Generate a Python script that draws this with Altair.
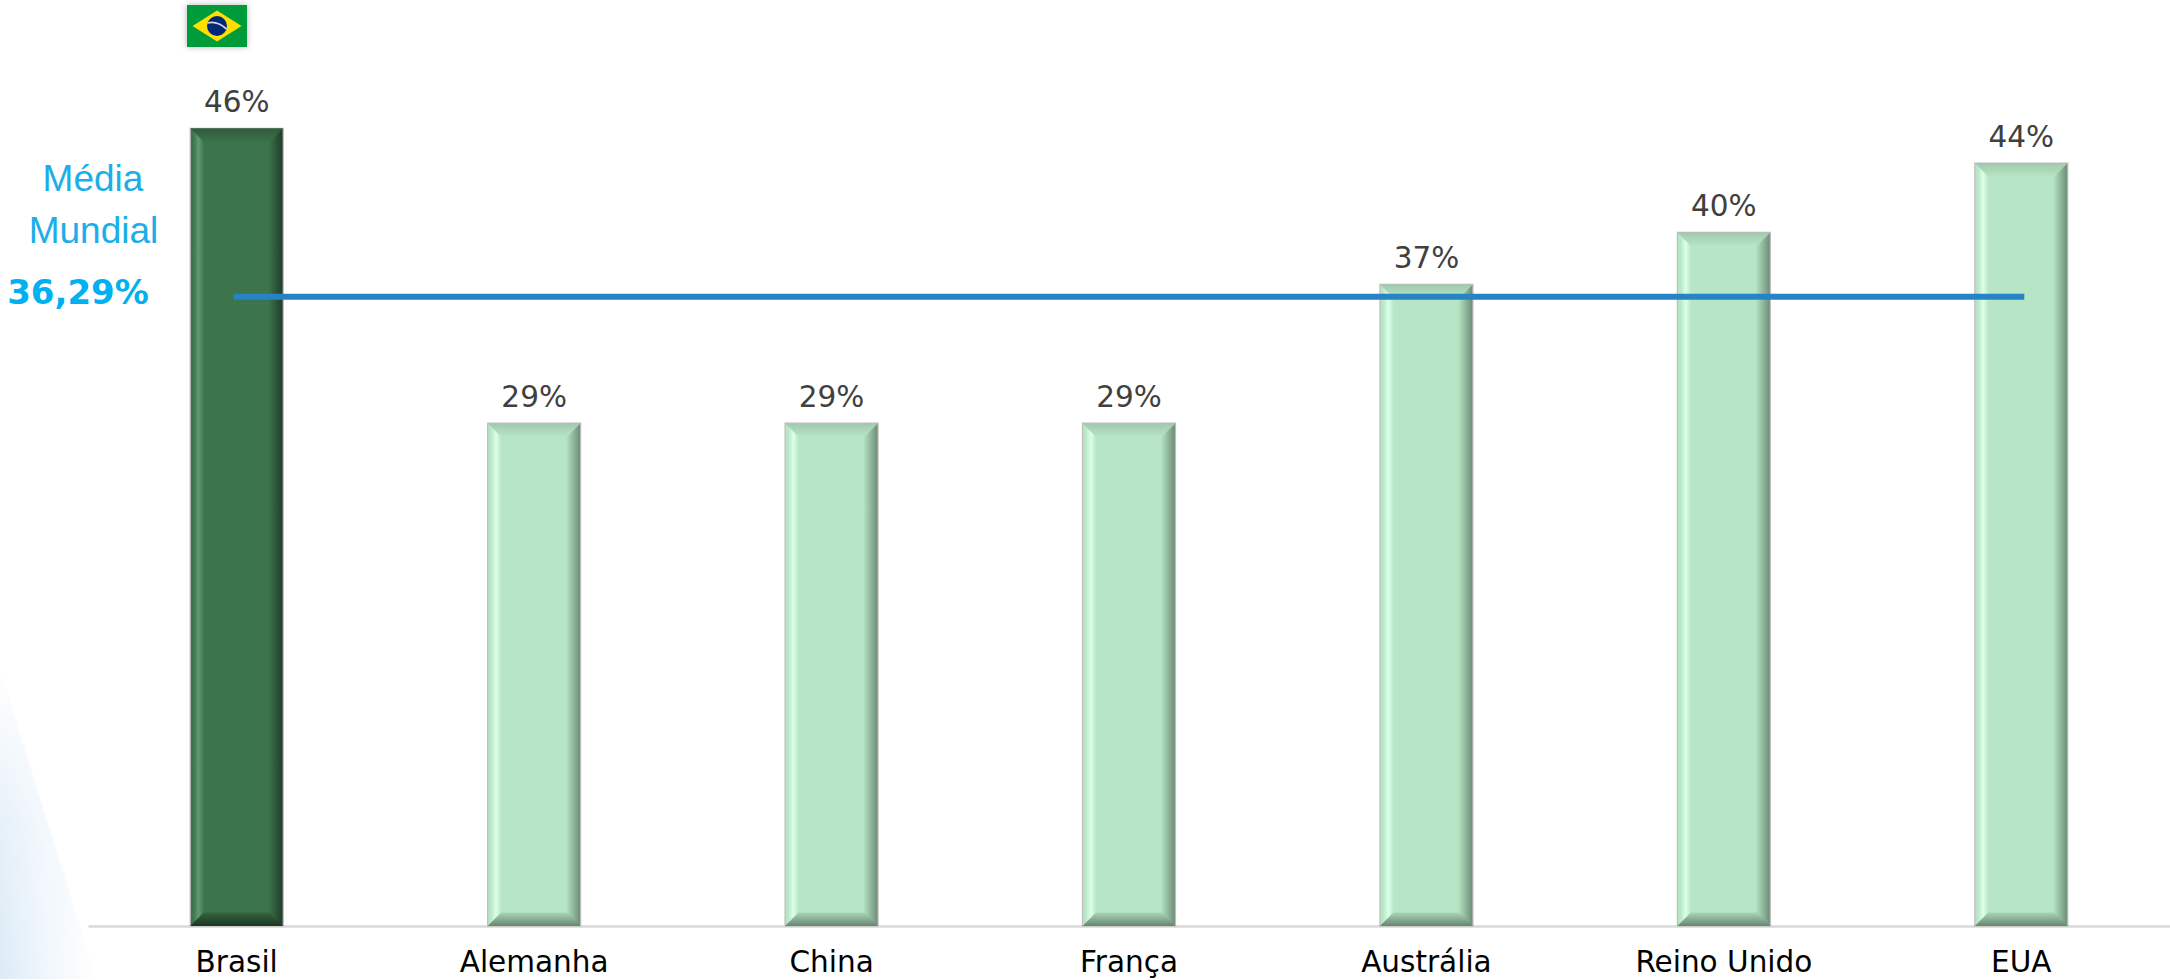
import base64

import altair as alt
import pandas as pd

# Share of respondents per country, in percent
countries = ["Brasil", "Alemanha", "China", "França", "Austrália", "Reino Unido", "EUA"]
shares = [46, 29, 29, 29, 37, 40, 44]
world_mean = 36.29

bars = pd.DataFrame({
    "pais": countries,
    "valor": shares,
    "rotulo": [f"{v}%" for v in shares],
    "media": [world_mean] * len(countries),
})

PLOT_W, PLOT_H = 2082, 867
PAD_L, PAD_T = 88, 59
BAR_W = 93
FONT = "DejaVu Sans"


def svg_uri(svg):
    return "data:image/svg+xml;base64," + base64.b64encode(svg.encode()).decode()


FLAG_SVG = """<svg xmlns='http://www.w3.org/2000/svg' width='76' height='58' viewBox='-8 -8 76 58'>
<defs><filter id='s' x='-30%' y='-30%' width='160%' height='160%'><feGaussianBlur stdDeviation='3'/></filter></defs>
<rect x='0' y='0' width='60' height='42' fill='#777' opacity='0.55' filter='url(#s)'/>
<rect x='0' y='0' width='60' height='42' fill='#009B3A'/>
<polygon points='30,5.5 54.5,21 30,36.5 5.5,21' fill='#FEDF00'/>
<circle cx='30' cy='21' r='10' fill='#002776'/>
<path d='M20.5,18 Q30,15.5 39.5,24' stroke='#cfd6e6' stroke-width='1.8' fill='none'/>
</svg>"""

# Pale wedge in the lower left corner, fading upwards and towards its slanted edge
HAZE_SVG = """<svg xmlns='http://www.w3.org/2000/svg' width='100' height='310' viewBox='0 0 100 310'>
<defs><linearGradient id='g' x1='0' y1='0' x2='1' y2='0'>
<stop offset='0' stop-color='#dcebf6'/><stop offset='0.45' stop-color='#eff6fc'/><stop offset='0.9' stop-color='#fcfdfe'/><stop offset='1' stop-color='#ffffff'/>
</linearGradient>
<linearGradient id='f' x1='0' y1='0' x2='0' y2='1'>
<stop offset='0' stop-color='#000'/><stop offset='0.5' stop-color='#bbb'/><stop offset='1' stop-color='#fff'/>
</linearGradient>
<mask id='m'><rect width='100' height='310' fill='url(#f)'/></mask></defs>
<polygon points='0,0 97,310 0,310' fill='url(#g)' mask='url(#m)'/>
</svg>"""


def h_gradient(stops):
    return alt.Gradient(
        gradient="linear", x1=0, x2=1, y1=0, y2=0,
        stops=[alt.GradientStop(offset=o, color=c) for o, c in stops],
    )


def v_gradient(top, bottom):
    return alt.Gradient(
        gradient="linear", x1=0, x2=0, y1=0, y2=1,
        stops=[alt.GradientStop(offset=0, color=top), alt.GradientStop(offset=1, color=bottom)],
    )


x_scale = alt.Scale(domain=countries, paddingInner=0.69, paddingOuter=0.345, align=0.5)
y_scale = alt.Scale(domain=[0, 50], nice=False)
x_enc = alt.X(
    "pais:N", scale=x_scale, sort=countries, title=None,
    axis=alt.Axis(
        labelAngle=0, labelFont=FONT, labelFontSize=29.5, labelColor="#000000",
        labelPadding=22, labelOverlap=False,
        domainColor="#d9d9d9", domainWidth=2.5, ticks=False, grid=False,
    ),
)
y_enc = alt.Y("valor:Q", scale=y_scale, axis=None)

# Bevel facets: unit paths scaled by the symbol size so that they span one bar
BEVEL_TOP = "M-1,0 L1,0 L0.71,0.29 L-0.71,0.29 Z"
BEVEL_BOTTOM = "M-1,0 L1,0 L0.71,-0.29 L-0.71,-0.29 Z"


def bevelled(predicate, base, glow, edge, top_a, top_b, bot_a, bot_b):
    source = alt.Chart(bars).transform_filter(predicate)
    body = source.mark_bar(
        size=BAR_W, stroke="#bdbdbd", strokeWidth=1.2,
        fill=h_gradient([
            (0, base), (0.03, base), (0.09, glow), (0.15, base),
            (0.84, base), (1, edge),
        ]),
    ).encode(x=x_enc, y=y_enc)
    top = source.mark_point(
        shape=BEVEL_TOP, filled=True, size=BAR_W ** 2, opacity=1,
        fill=v_gradient(top_a, top_b), strokeWidth=0,
    ).encode(x=x_enc, y=y_enc)
    bottom = source.mark_point(
        shape=BEVEL_BOTTOM, filled=True, size=BAR_W ** 2, opacity=1,
        fill=v_gradient(bot_a, bot_b), strokeWidth=0,
    ).encode(x=x_enc, y=alt.YDatum(0, scale=y_scale, axis=None))
    return body + top + bottom


brasil = bevelled(
    "datum.pais === 'Brasil'",
    "#3c744c", "#5f9a72", "#1e3a27",
    "#2f5c3c", "#3b724a", "#36643f", "#1c3522",
)
others = bevelled(
    "datum.pais !== 'Brasil'",
    "#b6e6c5", "#dcffe8", "#6b8a76",
    "#a2c8af", "#b5e5c4", "#a9d6b7", "#668571",
)

value_labels = alt.Chart(bars).mark_text(
    font=FONT, fontSize=29.5, color="#404040", dy=-16, baseline="alphabetic",
).encode(x=x_enc, y=y_enc, text="rotulo:N")

mean_line = alt.Chart(bars).mark_line(
    color="#2683C6", strokeWidth=6, strokeCap="square",
).encode(x=x_enc, y=alt.Y("media:Q", scale=y_scale, axis=None))


def note(text, cx, base, font, size, color, weight="normal"):
    return alt.Chart(pd.DataFrame({"t": [text]})).mark_text(
        font=font, fontSize=size, color=color, fontWeight=weight,
        align="center", baseline="alphabetic",
    ).encode(x=alt.value(cx - PAD_L), y=alt.value(base - PAD_T), text="t:N")


def picture(svg, left, top, w, h):
    return alt.Chart(pd.DataFrame({"u": [svg_uri(svg)]})).mark_image(
        width=w, height=h, align="left", baseline="top",
    ).encode(x=alt.value(left - PAD_L), y=alt.value(top - PAD_T), url="u:N")


chart = alt.layer(
    picture(HAZE_SVG, 0, 670, 100, 310),
    brasil,
    others,
    mean_line,
    value_labels,
    picture(FLAG_SVG, 179, -3, 76, 58),
    note("Média", 93, 191, "Liberation Sans", 37, "#1CAEE8"),
    note("Mundial", 93.5, 243, "Liberation Sans", 37, "#1CAEE8"),
    note("36,29%", 78, 304, FONT, 34, "#00B0F0", "bold"),
).properties(
    width=PLOT_W,
    height=PLOT_H,
    padding={"left": PAD_L, "top": PAD_T, "right": 0, "bottom": 53},
    autosize=alt.AutoSizeParams(type="none"),
    background="#ffffff",
).configure_view(stroke=None)

chart.save("out.html", embed_options={"renderer": "svg", "actions": False})
